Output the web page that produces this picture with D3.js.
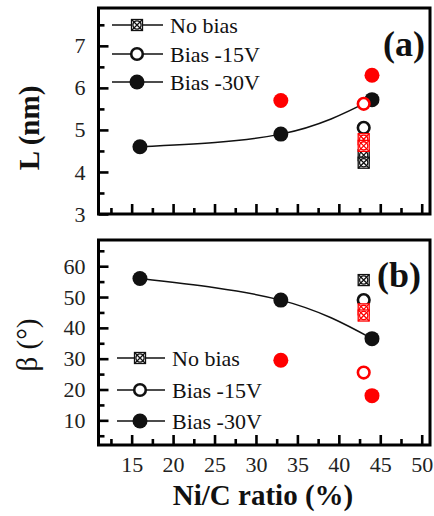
<!DOCTYPE html>
<html><head><meta charset="utf-8">
<script src="https://cdn.jsdelivr.net/npm/d3@7"></script>
<style>
html,body{margin:0;padding:0;background:#fff;}
svg{display:block;}
svg text{font-family:"Liberation Serif","DejaVu Serif",serif;}
</style></head>
<body>
<script>
// ---------- data ----------
const legendLabels = ["No bias", "Bias -15V", "Bias -30V"];
const xTicks = [15, 20, 25, 30, 35, 40, 45, 50];
const xMinorTicks = [12.5, 17.5, 22.5, 27.5, 32.5, 37.5, 42.5, 47.5];
const aTicks = [3, 4, 5, 6, 7];
const aMinorTicks = [3.5, 4.5, 5.5, 6.5, 7.5];
const bTicks = [10, 20, 30, 40, 50, 60];
const bMinorTicks = [5, 15, 25, 35, 45, 55, 65];

// Panel (a): L (nm)
const aBlackNoBias = [[43, 4.4], [43, 4.22]];
const aBlack15 = [[43, 5.05]];
const aBlack30 = [[16, 4.6], [33, 4.9], [44, 5.72]];
const aRedNoBias = [[43, 4.78], [43, 4.62]];
const aRed15 = [[43, 5.62]];
const aRed30 = [[33, 5.7], [44, 6.3]];

// Panel (b): beta (deg)
const bBlackNoBias = [[43, 55.5]];
const bBlack15 = [[43, 49]];
const bBlack30 = [[16, 56], [33, 49], [44, 36.5]];
const bRedNoBias = [[43, 46], [43, 44]];
const bRed15 = [[43, 25.5]];
const bRed30 = [[33, 29.5], [44, 18]];

// ---------- layout ----------
const W = 434, H = 516;
const FONT = '"Liberation Serif","DejaVu Serif",serif';
const svg = d3.select("body").append("svg").attr("width", W).attr("height", H);
const left = 98.5, right = 430;
const x = d3.scaleLinear().domain([11, 51]).range([left, right]);
const yA = d3.scaleLinear().domain([3, 7.9]).range([214, 8]);
const yB = d3.scaleLinear().domain([2, 68.5]).range([445, 240]);
const RED = "#ff0000";

function drawPanel(y, ticks, minor, showXLabels) {
  const g = svg.append("g");
  const [y0, y1] = y.range();
  g.append("g").attr("transform", `translate(${left},0)`)
    .call(d3.axisLeft(y).tickValues(ticks).tickSize(-10).tickPadding(13).tickFormat(d3.format("d")))
    .attr("font-family", FONT)
    .call(s => s.select(".domain").remove())
    .call(s => s.selectAll("line").attr("stroke", "#000").attr("stroke-width", 2.6))
    .call(s => s.selectAll("text").attr("font-size", 22).attr("fill", "#222"));
  g.append("g").attr("transform", `translate(${left},0)`)
    .call(d3.axisLeft(y).tickValues(minor.filter(v => v > y.domain()[0] && v < y.domain()[1])).tickSize(-6).tickFormat(""))
    .call(s => s.select(".domain").remove())
    .call(s => s.selectAll("line").attr("stroke", "#000").attr("stroke-width", 2.6));
  g.append("g").attr("transform", `translate(0,${y0})`)
    .call(d3.axisBottom(x).tickValues(xTicks).tickSize(-10).tickPadding(11).tickFormat(showXLabels ? d3.format("d") : ""))
    .attr("font-family", FONT)
    .call(s => s.select(".domain").remove())
    .call(s => s.selectAll("line").attr("stroke", "#000").attr("stroke-width", 2.6))
    .call(s => s.selectAll("text").attr("font-size", 22).attr("fill", "#222"));
  g.append("g").attr("transform", `translate(0,${y0})`)
    .call(d3.axisBottom(x).tickValues(xMinorTicks).tickSize(-6).tickFormat(""))
    .call(s => s.select(".domain").remove())
    .call(s => s.selectAll("line").attr("stroke", "#000").attr("stroke-width", 2.6));
  g.append("rect").attr("x", left).attr("y", y1).attr("width", right - left).attr("height", y0 - y1)
    .attr("fill", "none").attr("stroke", "#000").attr("stroke-width", 3);
  return g;
}

function crossed(g, cx, cy, color) {
  const s = 5.5;
  const m = g.append("g").attr("transform", `translate(${cx},${cy})`)
    .attr("stroke", color).attr("stroke-width", 1.3).attr("fill", "none");
  m.append("rect").attr("x", -s).attr("y", -s).attr("width", 2 * s).attr("height", 2 * s).attr("fill", "#fff");
  m.append("path").attr("d", `M${-s},${-s}L${s},${s}M${s},${-s}L${-s},${s}`);
  m.append("circle").attr("r", s * 0.75);
}
function openC(g, cx, cy, color) {
  g.append("circle").attr("cx", cx).attr("cy", cy).attr("r", 5.8)
    .attr("fill", "#fff").attr("stroke", color).attr("stroke-width", 2.6);
}
function filledC(g, cx, cy, color) {
  g.append("circle").attr("cx", cx).attr("cy", cy).attr("r", 7.5).attr("fill", color);
}

function drawData(g, y, series) {
  const curve = d3.line().x(d => x(d[0])).y(d => y(d[1])).curve(d3.curveNatural);
  g.append("path").datum(series.black30).attr("d", curve).attr("fill", "none")
    .attr("stroke", "#111").attr("stroke-width", 1.5);
  series.red30.forEach(d => filledC(g, x(d[0]), y(d[1]), RED));
  series.blackNo.forEach(d => crossed(g, x(d[0]), y(d[1]), "#111"));
  series.black15.forEach(d => openC(g, x(d[0]), y(d[1]), "#111"));
  series.redNo.forEach(d => crossed(g, x(d[0]), y(d[1]), RED));
  series.black30.forEach(d => filledC(g, x(d[0]), y(d[1]), "#111"));
  series.red15.forEach(d => openC(g, x(d[0]), y(d[1]), RED));
}

function drawLegend(g, x0, x1, xm, xt, rows) {
  const kinds = [crossed, openC, filledC];
  rows.forEach((ry, i) => {
    g.append("line").attr("x1", x0).attr("x2", x1).attr("y1", ry).attr("y2", ry)
      .attr("stroke", "#111").attr("stroke-width", 1.5);
    kinds[i](g, xm, ry, "#111");
    g.append("text").attr("x", xt).attr("y", ry).attr("dy", "0.35em")
      .attr("font-size", 22).attr("fill", "#111").text(legendLabels[i]);
  });
}

const gA = drawPanel(yA, aTicks, aMinorTicks, false);
drawData(gA, yA, {black30: aBlack30, red30: aRed30, blackNo: aBlackNoBias, black15: aBlack15, redNo: aRedNoBias, red15: aRed15});
drawLegend(gA, 112, 163, 137, 170, [25, 54, 82]);
gA.append("text").attr("x", 425).attr("y", 56).attr("text-anchor", "end")
  .attr("font-size", 36).attr("font-weight", "bold").attr("fill", "#111").text("(a)");

const gB = drawPanel(yB, bTicks, bMinorTicks, true);
drawData(gB, yB, {black30: bBlack30, red30: bRed30, blackNo: bBlackNoBias, black15: bBlack15, redNo: bRedNoBias, red15: bRed15});
drawLegend(gB, 117, 165, 140, 172, [358, 390, 421]);
gB.append("text").attr("x", 421).attr("y", 287).attr("text-anchor", "end")
  .attr("font-size", 36).attr("font-weight", "bold").attr("fill", "#111").text("(b)");

svg.append("text").attr("transform", "translate(39,128) rotate(-90)").attr("text-anchor", "middle")
  .attr("font-size", 29).attr("font-weight", "bold").attr("fill", "#111").text("L (nm)");
svg.append("text").attr("transform", "translate(37,345) rotate(-90)").attr("text-anchor", "middle")
  .attr("font-size", 29).attr("fill", "#111").text("β (°)");
svg.append("text").attr("x", 263).attr("y", 505).attr("text-anchor", "middle")
  .attr("font-size", 29).attr("font-weight", "bold").attr("fill", "#111").text("Ni/C ratio (%)");
</script>
</body></html>
